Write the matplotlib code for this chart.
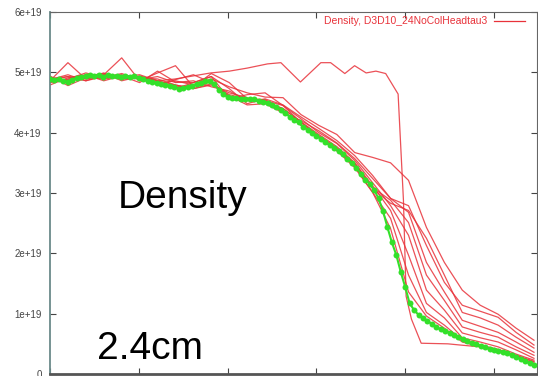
import numpy as np
import matplotlib
matplotlib.use("Agg")
import matplotlib.pyplot as plt
from matplotlib.lines import Line2D

plt.rcParams['font.family'] = ['Liberation Sans', 'DejaVu Sans']

# ---- data (density in units of 1e19) ----
green_x = np.arange(110) * 0.05
green_y = [4.89, 4.88, 4.89, 4.86, 4.84, 4.88, 4.91, 4.93, 4.94, 4.96,
           4.94, 4.96, 4.93, 4.96, 4.94, 4.94, 4.93, 4.94, 4.93, 4.94,
           4.91, 4.89, 4.86, 4.84, 4.83, 4.81, 4.79, 4.78, 4.76, 4.73,
           4.74, 4.76, 4.78, 4.81, 4.83, 4.86, 4.86, 4.81, 4.71, 4.64,
           4.59, 4.58, 4.58, 4.56, 4.56, 4.55, 4.55, 4.53, 4.51, 4.50,
           4.46, 4.43, 4.38, 4.33, 4.26, 4.21, 4.17, 4.10, 4.05, 4.00,
           3.95, 3.90, 3.85, 3.80, 3.75, 3.70, 3.64, 3.57, 3.50, 3.42,
           3.32, 3.22, 3.15, 3.05, 2.91, 2.70, 2.43, 2.18, 1.97, 1.69,
           1.44, 1.17, 1.06, 0.98, 0.93, 0.88, 0.83, 0.78, 0.74, 0.71,
           0.68, 0.64, 0.61, 0.58, 0.55, 0.51, 0.50, 0.46, 0.45, 0.41,
           0.40, 0.38, 0.36, 0.35, 0.31, 0.28, 0.25, 0.21, 0.18, 0.15]

red_x = np.linspace(0, 5.45, 28)
red_1 = [4.89, 4.93, 4.86, 4.96, 4.89, 4.94, 4.86, 4.79, 4.73, 4.79, 4.66, 4.58, 4.50, 4.40,
         4.18, 3.97, 3.77, 3.50, 3.12, 2.71, 1.97, 1.17, 0.93, 0.60, 0.53, 0.45, 0.33, 0.23]
red_2 = [4.83, 4.89, 4.99, 4.91, 4.98, 4.88, 4.93, 4.83, 4.86, 4.76, 4.69, 4.53, 4.53, 4.45,
         4.23, 4.00, 3.82, 3.54, 3.17, 2.79, 2.30, 1.39, 1.06, 0.68, 0.60, 0.53, 0.40, 0.26]
red_3 = [4.86, 5.16, 4.89, 4.96, 5.24, 4.86, 4.99, 5.11, 4.76, 4.98, 4.83, 4.56, 4.55, 4.36,
         4.12, 3.92, 3.70, 3.49, 3.09, 2.88, 2.51, 1.64, 1.22, 0.78, 0.69, 0.61, 0.45, 0.31]
red_4 = [4.94, 4.78, 4.91, 4.99, 4.86, 4.93, 4.79, 4.88, 4.96, 4.83, 4.61, 4.46, 4.48, 4.33,
         4.20, 4.03, 3.83, 3.57, 3.24, 2.91, 2.68, 1.85, 1.36, 0.89, 0.79, 0.69, 0.53, 0.36]
red_5 = [4.79, 4.91, 4.96, 4.86, 4.94, 4.83, 5.02, 4.84, 4.83, 4.93, 4.73, 4.48, 4.56, 4.46,
         4.26, 4.07, 3.87, 3.62, 3.29, 2.91, 2.79, 2.13, 1.52, 1.14, 1.04, 0.94, 0.69, 0.48]
red_6 = [4.88, 4.96, 4.86, 4.93, 4.96, 4.88, 4.81, 4.86, 4.79, 4.89, 4.76, 4.66, 4.59, 4.58,
         4.30, 4.12, 3.97, 3.67, 3.59, 3.50, 3.21, 2.43, 1.85, 1.39, 1.14, 0.99, 0.76, 0.56]
red_7 = [4.91, 4.86, 4.93, 4.89, 4.93, 4.96, 4.86, 4.73, 4.83, 4.93, 4.56, 4.63, 4.66, 4.45,
         4.17, 3.95, 3.75, 3.49, 3.07, 2.83, 2.71, 2.25, 1.64, 1.02, 0.93, 0.81, 0.61, 0.43]
red_8 = [4.84, 4.88, 4.94, 4.98, 4.89, 4.91, 4.89, 4.79, 4.73, 4.81, 4.63, 4.56, 4.51, 4.40,
         4.17, 3.93, 3.72, 3.44, 3.01, 2.58, 1.64, 1.02, 0.81, 0.56, 0.48, 0.41, 0.30, 0.20]
red_9 = [4.89, 4.86, 4.91, 4.93, 4.94, 4.91, 4.83, 4.76, 4.78, 4.84, 4.59, 4.55, 4.50, 4.35,
         4.13, 3.92, 3.70, 3.42, 3.01, 2.41, 1.36, 0.96, 0.76, 0.53, 0.45, 0.40, 0.28, 0.18]

outlier_x = [0, 0.20, 0.41, 0.61, 0.81, 1.01, 1.22, 1.41, 1.61, 1.81, 2.02, 2.22, 2.45, 2.60,
             2.82, 3.05, 3.16, 3.32, 3.43, 3.56, 3.67, 3.78, 3.92, 3.98, 4.01, 4.07, 4.18,
             4.48, 4.62, 4.84, 5.05, 5.25, 5.45]
outlier_y = [4.86, 4.93, 4.89, 4.96, 4.89, 4.93, 4.86, 4.89, 4.94, 4.99, 5.02, 5.07, 5.14, 5.16,
             4.84, 5.16, 5.16, 4.98, 5.11, 4.99, 5.02, 4.98, 4.64, 2.88, 1.29, 0.91, 0.51,
             0.50, 0.48, 0.45, 0.40, 0.31, 0.21]

y_ticks = [0, 1, 2, 3, 4, 5, 6]
y_labels = ["0", "1e+19", "2e+19", "3e+19", "4e+19", "5e+19", "6e+19"]
x_ticks = [0, 1, 2, 3, 4, 5]
legend_label = "Density, D3D10_24NoColHeadtau3"

# ---- figure ----
W, H = 538, 376
fig = plt.figure(figsize=(W / 100, H / 100), dpi=100)
ax = fig.add_axes([50 / W, 2 / H, 487 / W, 362 / H])

red = '#e8323a'
for ys in [red_1, red_2, red_3, red_4, red_5, red_6, red_7, red_8, red_9]:
    ax.plot(red_x, ys, color=red, lw=0.9, alpha=0.85, zorder=2)
ax.plot(outlier_x, outlier_y, color=red, lw=0.9, alpha=0.85, zorder=2)

ax.plot(green_x, green_y, color='#33e02a', lw=1.5, marker='o', ms=4.3,
        markeredgewidth=0, zorder=3)

ax.set_xlim(0, 5.484)
ax.set_ylim(0, 6)
ax.set_yticks(y_ticks)
ax.set_yticklabels(y_labels, fontsize=7, color='#444444')
ax.set_xticks(x_ticks)
ax.set_xticklabels([])
ax.tick_params(axis='both', direction='in', length=4, width=0.8, color='#444444',
               top=True, right=True, pad=6)

for side in ['top', 'right']:
    ax.spines[side].set_color('#666666')
    ax.spines[side].set_linewidth(0.8)
ax.spines['left'].set_color('#6b8a8a')
ax.spines['left'].set_linewidth(1.3)
ax.spines['bottom'].set_color('#555555')
ax.spines['bottom'].set_linewidth(2.0)

# legend (gnuplot style)
fig.text(487 / W, 1 - 21 / H, legend_label, color=red, fontsize=7.5,
         ha='right', va='center')
fig.add_artist(Line2D([494 / W, 525 / W], [1 - 21 / H, 1 - 21 / H],
                      transform=fig.transFigure, color=red, lw=0.9))

# annotations
fig.text(118 / W, 1 - 208 / H, "Density", fontsize=28, color='black',
         ha='left', va='baseline')
fig.text(97 / W, 1 - 359 / H, "2.4cm", fontsize=28, color='black',
         ha='left', va='baseline')

fig.savefig("out.png", dpi=100)
